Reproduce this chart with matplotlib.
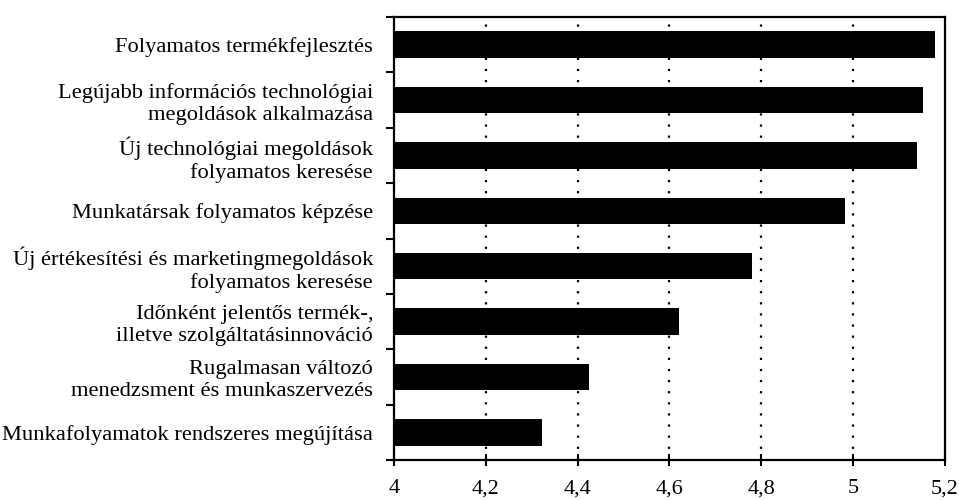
import matplotlib
matplotlib.use("Agg")
import matplotlib.pyplot as plt
import matplotlib.ticker as mticker
import numpy as np

categories = [
    "Folyamatos termékfejlesztés",
    "Legújabb információs technológiai\nmegoldások alkalmazása",
    "Új technológiai megoldások\nfolyamatos keresése",
    "Munkatársak folyamatos képzése",
    "Új értékesítési és marketingmegoldások\nfolyamatos keresése",
    "Időnként jelentős termék-,\nilletve szolgáltatásinnováció",
    "Rugalmasan változó\nmenedzsment és munkaszervezés",
    "Munkafolyamatok rendszeres megújítása",
]
values = [5.178, 5.152, 5.139, 4.982, 4.780, 4.621, 4.425, 4.322]
xticks = [4.0, 4.2, 4.4, 4.6, 4.8, 5.0, 5.2]

plt.rcParams["font.family"] = ["Liberation Serif", "DejaVu Serif"]

fig = plt.figure(figsize=(9.59, 5.0), dpi=100)
ax = fig.add_axes([0.4108, 0.08, 0.5746, 0.886])

n = len(categories)
ypos = np.arange(n)[::-1]
ax.barh(ypos, values, height=0.48, color="black", zorder=3)

ax.set_xlim(4.0, 5.2)
ax.set_ylim(-0.5, n - 0.5)

ax.set_xticks(xticks)
ax.xaxis.set_major_formatter(
    mticker.FuncFormatter(lambda x, _: f"{x:g}".replace(".", ",")))
ax.tick_params(axis="x", direction="inout", length=8, width=1.5,
               labelsize=16, pad=10)

# category boundaries get the ticks, labels sit at the centres
ax.set_yticks(np.arange(-0.5, n, 1.0))
ax.set_yticklabels([])
ax.set_yticks(ypos, minor=True)
ax.set_yticklabels(categories, minor=True)
ax.tick_params(axis="y", which="major", direction="out", length=6, width=1.5)
ax.tick_params(axis="y", which="minor", length=0, pad=15, labelsize=16.2)
for t in ax.get_yticklabels(minor=True):
    t.set_linespacing(1.2)
    t.set_multialignment("right")

for x in xticks[1:-1]:
    ax.axvline(x, color="black", ls=(0, (1, 4)), lw=1.6, zorder=1)

for s in ax.spines.values():
    s.set_linewidth(1.6)

fig.savefig("out.png", dpi=100)
